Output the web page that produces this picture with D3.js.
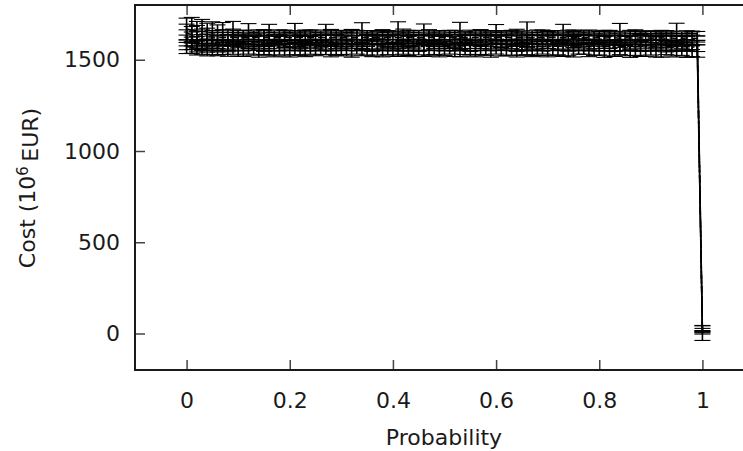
<!DOCTYPE html>
<html>
<head>
<meta charset="utf-8">
<script src="https://cdn.jsdelivr.net/npm/d3@7/dist/d3.min.js"></script>
<style>
  body { margin: 0; background: #fff; }
  svg { display: block; font-family: "DejaVu Sans", sans-serif; }
</style>
</head>
<body>
<div id="my_chart"></div>
<script>
// probability grid (x)
const probs = [
  0, 0.01, 0.02, 0.03, 0.04, 0.05, 0.06, 0.07, 0.08, 0.09,
  0.1, 0.11, 0.12, 0.13, 0.14, 0.15, 0.16, 0.17, 0.18, 0.19,
  0.2, 0.21, 0.22, 0.23, 0.24, 0.25, 0.26, 0.27, 0.28, 0.29,
  0.3, 0.31, 0.32, 0.33, 0.34, 0.35, 0.36, 0.37, 0.38, 0.39,
  0.4, 0.41, 0.42, 0.43, 0.44, 0.45, 0.46, 0.47, 0.48, 0.49,
  0.5, 0.51, 0.52, 0.53, 0.54, 0.55, 0.56, 0.57, 0.58, 0.59,
  0.6, 0.61, 0.62, 0.63, 0.64, 0.65, 0.66, 0.67, 0.68, 0.69,
  0.7, 0.71, 0.72, 0.73, 0.74, 0.75, 0.76, 0.77, 0.78, 0.79,
  0.8, 0.81, 0.82, 0.83, 0.84, 0.85, 0.86, 0.87, 0.88, 0.89,
  0.9, 0.91, 0.92, 0.93, 0.94, 0.95, 0.96, 0.97, 0.98, 0.99,
  1
];

// mean cost (10^6 EUR) and error half-widths, one pair per curve
const costA = [
  1668, 1662, 1658, 1655, 1652, 1650, 1651, 1649, 1650, 1648,
  1649, 1647, 1648, 1650, 1648, 1647, 1649, 1648, 1646, 1648,
  1649, 1647, 1648, 1646, 1647, 1649, 1648, 1646, 1647, 1648,
  1647, 1649, 1648, 1646, 1647, 1648, 1646, 1647, 1649, 1648,
  1647, 1646, 1648, 1647, 1649, 1648, 1646, 1647, 1648, 1647,
  1646, 1648, 1649, 1647, 1646, 1648, 1647, 1646, 1648, 1647,
  1649, 1648, 1646, 1647, 1648, 1646, 1647, 1648, 1649, 1647,
  1646, 1648, 1647, 1646, 1648, 1647, 1646, 1648, 1647, 1646,
  1645, 1647, 1646, 1645, 1647, 1646, 1645, 1644, 1646, 1645,
  1644, 1646, 1645, 1644, 1645, 1644, 1643, 1645, 1644, 1643,
  28
];
const errA = [
  60, 70, 52, 66, 48, 58, 40, 55, 12, 62,
  10, 14, 50, 8, 16, 12, 45, 10, 18, 14,
  8, 52, 12, 10, 16, 14, 9, 48, 12, 10,
  14, 8, 18, 12, 56, 10, 14, 9, 16, 12,
  10, 62, 8, 14, 12, 10, 50, 16, 9, 12,
  14, 10, 12, 58, 8, 14, 10, 16, 12, 9,
  44, 12, 10, 14, 8, 12, 60, 10, 14, 16,
  9, 12, 10, 48, 14, 8, 12, 10, 16, 12,
  10, 14, 12, 9, 52, 10, 16, 12, 8, 14,
  12, 10, 16, 8, 12, 56, 10, 14, 9, 12,
  16
];
const costB = [
  1645, 1638, 1632, 1628, 1625, 1624, 1622, 1623, 1621, 1622,
  1620, 1622, 1621, 1623, 1620, 1621, 1622, 1620, 1621, 1623,
  1621, 1620, 1622, 1621, 1620, 1622, 1623, 1621, 1620, 1622,
  1621, 1623, 1620, 1621, 1622, 1620, 1621, 1623, 1622, 1620,
  1621, 1622, 1620, 1621, 1623, 1621, 1620, 1622, 1621, 1620,
  1622, 1621, 1620, 1622, 1623, 1621, 1620, 1621, 1622, 1620,
  1621, 1623, 1622, 1620, 1621, 1622, 1620, 1621, 1623, 1621,
  1620, 1622, 1621, 1620, 1622, 1621, 1623, 1620, 1621, 1622,
  1620, 1619, 1621, 1620, 1618, 1620, 1619, 1618, 1620, 1619,
  1618, 1619, 1620, 1618, 1619, 1617, 1618, 1619, 1617, 1618,
  18
];
const errB = [
  50, 44, 56, 40, 48, 36, 14, 42, 10, 46,
  12, 40, 8, 14, 10, 44, 12, 9, 16, 38,
  10, 14, 12, 42, 8, 10, 16, 12, 46, 10,
  14, 9, 12, 40, 10, 16, 8, 12, 14, 36,
  10, 12, 48, 9, 14, 10, 12, 42, 16, 8,
  12, 40, 10, 14, 9, 12, 16, 44, 10, 12,
  8, 14, 12, 10, 46, 9, 16, 12, 10, 38,
  14, 10, 12, 16, 8, 42, 10, 14, 12, 9,
  16, 12, 40, 10, 14, 8, 12, 46, 10, 16,
  12, 9, 14, 42, 10, 12, 16, 8, 40, 12,
  10
];
const costC = [
  1620, 1614, 1608, 1604, 1601, 1600, 1598, 1599, 1597, 1598,
  1596, 1598, 1597, 1599, 1596, 1597, 1598, 1596, 1597, 1599,
  1597, 1596, 1598, 1597, 1596, 1598, 1599, 1597, 1596, 1598,
  1597, 1599, 1596, 1597, 1598, 1596, 1597, 1599, 1598, 1596,
  1597, 1598, 1596, 1597, 1599, 1597, 1596, 1598, 1597, 1596,
  1598, 1597, 1596, 1598, 1599, 1597, 1596, 1597, 1598, 1596,
  1597, 1599, 1598, 1596, 1597, 1598, 1596, 1597, 1599, 1597,
  1596, 1598, 1597, 1596, 1598, 1597, 1599, 1596, 1597, 1598,
  1596, 1595, 1597, 1596, 1594, 1596, 1595, 1594, 1596, 1595,
  1594, 1595, 1596, 1594, 1595, 1593, 1594, 1595, 1593, 1594,
  10
];
const errC = [
  44, 38, 48, 34, 40, 30, 36, 12, 38, 10,
  30, 10, 14, 28, 12, 34, 9, 16, 12, 32,
  12, 10, 30, 14, 9, 12, 34, 10, 16, 12,
  28, 10, 14, 12, 36, 9, 12, 16, 10, 30,
  12, 14, 9, 32, 10, 16, 12, 10, 34, 14,
  10, 12, 30, 16, 9, 12, 10, 36, 14, 12,
  10, 32, 12, 9, 16, 10, 28, 12, 14, 10,
  34, 12, 9, 14, 10, 30, 16, 12, 10, 14,
  9, 32, 12, 10, 16, 12, 36, 9, 14, 10,
  12, 30, 16, 10, 12, 9, 34, 14, 10, 12,
  6
];
const costD = [
  1595, 1590, 1585, 1581, 1578, 1577, 1575, 1576, 1574, 1575,
  1573, 1575, 1574, 1576, 1573, 1574, 1575, 1573, 1574, 1576,
  1574, 1573, 1575, 1574, 1573, 1575, 1576, 1574, 1573, 1575,
  1574, 1576, 1573, 1574, 1575, 1573, 1574, 1576, 1575, 1573,
  1574, 1575, 1573, 1574, 1576, 1574, 1573, 1575, 1574, 1573,
  1575, 1574, 1573, 1575, 1576, 1574, 1573, 1574, 1575, 1573,
  1574, 1576, 1575, 1573, 1574, 1575, 1573, 1574, 1576, 1574,
  1573, 1575, 1574, 1573, 1575, 1574, 1576, 1573, 1574, 1575,
  1573, 1572, 1574, 1573, 1571, 1573, 1572, 1571, 1573, 1572,
  1571, 1572, 1573, 1571, 1572, 1570, 1571, 1572, 1570, 1571,
  5
];
const errD = [
  40, 34, 42, 30, 36, 28, 32, 26, 30, 24,
  22, 26, 12, 24, 20, 28, 14, 22, 26, 12,
  24, 20, 14, 26, 22, 12, 28, 20, 24, 14,
  22, 26, 12, 24, 20, 14, 28, 22, 12, 24,
  20, 14, 26, 22, 12, 28, 20, 24, 14, 22,
  26, 12, 24, 20, 14, 28, 22, 12, 24, 20,
  14, 26, 22, 12, 28, 20, 24, 14, 22, 26,
  12, 24, 20, 14, 28, 22, 12, 24, 20, 14,
  26, 22, 12, 28, 20, 24, 14, 22, 26, 12,
  24, 20, 14, 28, 22, 12, 24, 20, 14, 26,
  8
];
const costE = [
  1572, 1567, 1562, 1558, 1555, 1554, 1552, 1553, 1551, 1552,
  1550, 1552, 1551, 1553, 1550, 1551, 1552, 1550, 1551, 1553,
  1551, 1550, 1552, 1551, 1550, 1552, 1553, 1551, 1550, 1552,
  1551, 1553, 1550, 1551, 1552, 1550, 1551, 1553, 1552, 1550,
  1551, 1552, 1550, 1551, 1553, 1551, 1550, 1552, 1551, 1550,
  1552, 1551, 1550, 1552, 1553, 1551, 1550, 1551, 1552, 1550,
  1551, 1553, 1552, 1550, 1551, 1552, 1550, 1551, 1553, 1551,
  1550, 1552, 1551, 1550, 1552, 1551, 1553, 1550, 1551, 1552,
  1550, 1549, 1551, 1550, 1548, 1550, 1549, 1548, 1550, 1549,
  1548, 1549, 1550, 1548, 1549, 1547, 1548, 1549, 1547, 1548,
  2
];
const errE = [
  38, 32, 36, 28, 34, 26, 30, 24, 32, 22,
  30, 34, 20, 28, 36, 22, 30, 34, 24, 32,
  36, 22, 28, 34, 20, 30, 26, 22, 34, 28,
  22, 32, 36, 20, 30, 24, 34, 28, 36, 22,
  30, 34, 20, 28, 36, 24, 32, 30, 22, 34,
  28, 20, 32, 36, 24, 30, 34, 22, 28, 36,
  20, 32, 30, 24, 36, 28, 22, 34, 30, 20,
  34, 28, 24, 32, 30, 36, 22, 20, 34, 28,
  24, 36, 30, 32, 20, 28, 36, 24, 32, 30,
  22, 34, 36, 20, 28, 32, 24, 36, 30, 34,
  40
];

const xTicks = [0, 0.2, 0.4, 0.6, 0.8, 1];
const yTicks = [0, 500, 1000, 1500];

// set the dimensions of the graph
const width = 743;
const height = 451;
const plot = { left: 135, top: 5, bottom: 370, right: 754 };
const capHalf = 8;

const svg = d3
  .select("#my_chart")
  .append("svg")
  .attr("width", width)
  .attr("height", height);

const xScale = d3.scaleLinear().domain([-0.1, 1.1]).range([plot.left, plot.right]);
const yScale = d3.scaleLinear().domain([-200, 1800]).range([plot.bottom, plot.top]);

// curves, each with its own dash pattern
const series = [
  { cost: costA, err: errA, dash: null },
  { cost: costB, err: errB, dash: "7,4" },
  { cost: costC, err: errC, dash: "2,3" },
  { cost: costD, err: errD, dash: "8,3,2,3" },
  { cost: costE, err: errE, dash: null },
];

const line = d3
  .line()
  .x((d) => xScale(d.p))
  .y((d) => yScale(d.v));

series.forEach((s) => {
  const pts = probs.map((p, i) => ({ p: p, v: s.cost[i], e: s.err[i] }));
  const g = svg.append("g").attr("class", "curve");

  g.append("path")
    .datum(pts)
    .attr("d", line)
    .attr("fill", "none")
    .attr("stroke", "#000")
    .attr("stroke-width", 1.5)
    .attr("stroke-dasharray", s.dash);

  const bars = g.selectAll("g.bar").data(pts).enter().append("g").attr("class", "bar");
  bars
    .append("line")
    .attr("x1", (d) => xScale(d.p))
    .attr("x2", (d) => xScale(d.p))
    .attr("y1", (d) => yScale(d.v - d.e))
    .attr("y2", (d) => yScale(d.v + d.e))
    .attr("stroke-width", 1.6);
  bars
    .append("line")
    .attr("x1", (d) => xScale(d.p) - capHalf)
    .attr("x2", (d) => xScale(d.p) + capHalf)
    .attr("y1", (d) => yScale(d.v + d.e))
    .attr("y2", (d) => yScale(d.v + d.e))
    .attr("stroke-width", 1.1);
  bars
    .append("line")
    .attr("x1", (d) => xScale(d.p) - capHalf)
    .attr("x2", (d) => xScale(d.p) + capHalf)
    .attr("y1", (d) => yScale(d.v - d.e))
    .attr("y2", (d) => yScale(d.v - d.e))
    .attr("stroke-width", 1.1);
  bars.selectAll("line").attr("stroke", "#000");
});

// axes: inward ticks, gnuplot-like
const xAxis = svg
  .append("g")
  .attr("transform", `translate(0,${plot.bottom})`)
  .call(
    d3.axisBottom(xScale).tickValues(xTicks).tickSize(-10).tickSizeOuter(0)
      .tickPadding(22).tickFormat(d3.format("~g"))
  );
const xTop = svg
  .append("g")
  .attr("transform", `translate(0,${plot.top})`)
  .call(d3.axisTop(xScale).tickValues(xTicks).tickSize(-10).tickSizeOuter(0).tickFormat(""));
const yAxis = svg
  .append("g")
  .attr("transform", `translate(${plot.left},0)`)
  .call(
    d3.axisLeft(yScale).tickValues(yTicks).tickSize(-10).tickSizeOuter(0)
      .tickPadding(15).tickFormat(d3.format("d"))
  );

[xAxis, xTop, yAxis].forEach((a) => {
  a.select(".domain").remove();
  a.selectAll(".tick line").attr("stroke", "#444").attr("stroke-width", 1.5);
  a.selectAll(".tick text")
    .attr("fill", "#1a1a1a")
    .style("font-size", "22px")
    .style("font-family", "DejaVu Sans");
});

// border (right side falls outside the picture)
svg
  .append("path")
  .attr("d", `M${width},${plot.top}H${plot.left}V${plot.bottom}H${width}`)
  .attr("fill", "none")
  .attr("stroke", "#1a1a1a")
  .attr("stroke-width", 2);

// axis titles
svg
  .append("text")
  .attr("x", 444)
  .attr("y", 445)
  .attr("text-anchor", "middle")
  .attr("fill", "#1a1a1a")
  .style("font-size", "22px")
  .text("Probability");

const yTitle = svg
  .append("text")
  .attr("transform", "translate(35,188) rotate(-90)")
  .attr("text-anchor", "middle")
  .attr("fill", "#1a1a1a")
  .style("font-size", "22px");
yTitle.append("tspan").text("Cost (10");
yTitle.append("tspan").attr("dy", "-0.45em").style("font-size", "15px").text("6");
yTitle.append("tspan").attr("dy", "0.45em").text("\u2009EUR)");
</script>
</body>
</html>
